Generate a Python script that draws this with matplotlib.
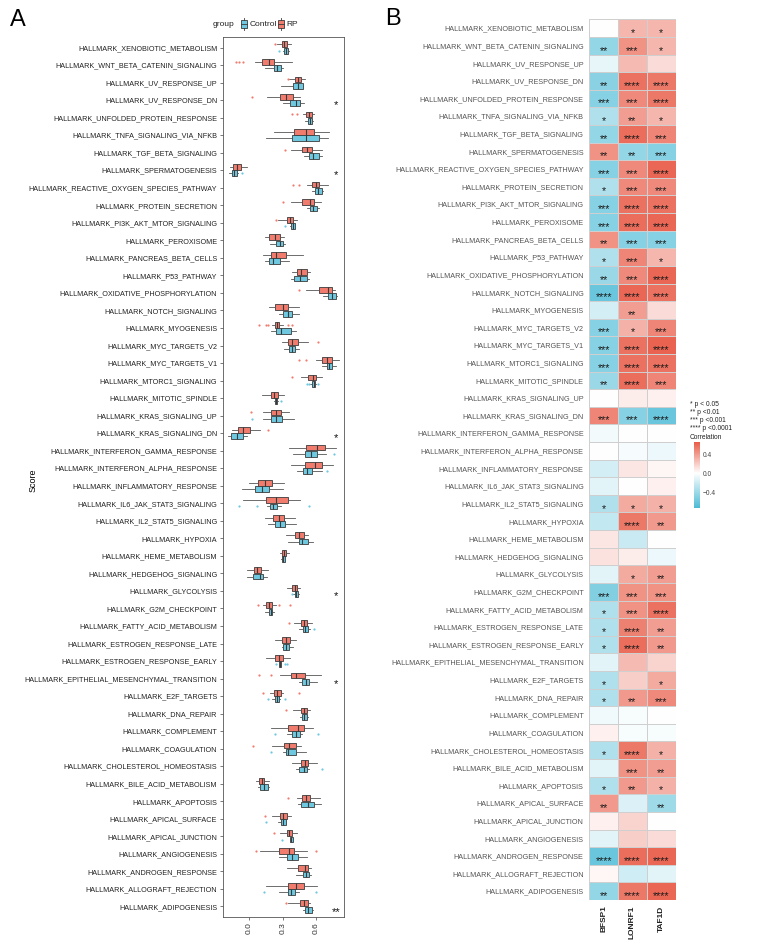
import numpy as np
import matplotlib
matplotlib.use("Agg")
import matplotlib.pyplot as plt
from matplotlib.colors import LinearSegmentedColormap, Normalize
from matplotlib.patches import Rectangle

plt.rcParams['font.family'] = ['Liberation Sans', 'DejaVu Sans']

pathways = [
    "HALLMARK_XENOBIOTIC_METABOLISM", "HALLMARK_WNT_BETA_CATENIN_SIGNALING",
    "HALLMARK_UV_RESPONSE_UP", "HALLMARK_UV_RESPONSE_DN",
    "HALLMARK_UNFOLDED_PROTEIN_RESPONSE", "HALLMARK_TNFA_SIGNALING_VIA_NFKB",
    "HALLMARK_TGF_BETA_SIGNALING", "HALLMARK_SPERMATOGENESIS",
    "HALLMARK_REACTIVE_OXYGEN_SPECIES_PATHWAY", "HALLMARK_PROTEIN_SECRETION",
    "HALLMARK_PI3K_AKT_MTOR_SIGNALING", "HALLMARK_PEROXISOME",
    "HALLMARK_PANCREAS_BETA_CELLS", "HALLMARK_P53_PATHWAY",
    "HALLMARK_OXIDATIVE_PHOSPHORYLATION", "HALLMARK_NOTCH_SIGNALING",
    "HALLMARK_MYOGENESIS", "HALLMARK_MYC_TARGETS_V2", "HALLMARK_MYC_TARGETS_V1",
    "HALLMARK_MTORC1_SIGNALING", "HALLMARK_MITOTIC_SPINDLE",
    "HALLMARK_KRAS_SIGNALING_UP", "HALLMARK_KRAS_SIGNALING_DN",
    "HALLMARK_INTERFERON_GAMMA_RESPONSE", "HALLMARK_INTERFERON_ALPHA_RESPONSE",
    "HALLMARK_INFLAMMATORY_RESPONSE", "HALLMARK_IL6_JAK_STAT3_SIGNALING",
    "HALLMARK_IL2_STAT5_SIGNALING", "HALLMARK_HYPOXIA", "HALLMARK_HEME_METABOLISM",
    "HALLMARK_HEDGEHOG_SIGNALING", "HALLMARK_GLYCOLYSIS", "HALLMARK_G2M_CHECKPOINT",
    "HALLMARK_FATTY_ACID_METABOLISM", "HALLMARK_ESTROGEN_RESPONSE_LATE",
    "HALLMARK_ESTROGEN_RESPONSE_EARLY", "HALLMARK_EPITHELIAL_MESENCHYMAL_TRANSITION",
    "HALLMARK_E2F_TARGETS", "HALLMARK_DNA_REPAIR", "HALLMARK_COMPLEMENT",
    "HALLMARK_COAGULATION", "HALLMARK_CHOLESTEROL_HOMEOSTASIS",
    "HALLMARK_BILE_ACID_METABOLISM", "HALLMARK_APOPTOSIS", "HALLMARK_APICAL_SURFACE",
    "HALLMARK_APICAL_JUNCTION", "HALLMARK_ANGIOGENESIS", "HALLMARK_ANDROGEN_RESPONSE",
    "HALLMARK_ALLOGRAFT_REJECTION", "HALLMARK_ADIPOGENESIS"]

# ---- panel A: box stats (q1, median, q3, whisker low, whisker high), RP group
rp_q1 = [0.291, 0.117, 0.414, 0.273, 0.511, 0.405, 0.477, -0.144, 0.568, 0.471,
         0.336, 0.180, 0.192, 0.426, 0.628, 0.231, 0.228, 0.351, 0.655, 0.532,
         0.192, 0.195, -0.099, 0.511, 0.505, 0.075, 0.153, 0.216, 0.408, 0.291,
         0.045, 0.387, 0.150, 0.462, 0.294, 0.231, 0.378, 0.225, 0.465, 0.351,
         0.315, 0.465, 0.090, 0.477, 0.276, 0.336, 0.270, 0.441, 0.345, 0.453]
rp_med = [0.312, 0.177, 0.438, 0.333, 0.535, 0.508, 0.523, -0.114, 0.598, 0.547,
          0.363, 0.231, 0.240, 0.465, 0.712, 0.306, 0.249, 0.384, 0.697, 0.571,
          0.222, 0.240, -0.054, 0.613, 0.595, 0.138, 0.240, 0.267, 0.444, 0.309,
          0.072, 0.408, 0.174, 0.489, 0.330, 0.267, 0.420, 0.252, 0.492, 0.435,
          0.360, 0.498, 0.111, 0.508, 0.303, 0.360, 0.357, 0.498, 0.420, 0.492]
rp_q3 = [0.336, 0.225, 0.462, 0.393, 0.562, 0.580, 0.568, -0.078, 0.631, 0.580,
         0.390, 0.276, 0.333, 0.517, 0.742, 0.351, 0.270, 0.435, 0.742, 0.604,
         0.255, 0.288, 0.003, 0.682, 0.658, 0.201, 0.351, 0.315, 0.492, 0.327,
         0.102, 0.429, 0.201, 0.523, 0.366, 0.306, 0.498, 0.285, 0.523, 0.495,
         0.417, 0.529, 0.135, 0.547, 0.342, 0.384, 0.399, 0.532, 0.492, 0.526]
rp_lo = [0.246, 0.054, 0.360, 0.159, 0.486, 0.225, 0.378, -0.174, 0.517, 0.372,
         0.261, 0.141, 0.126, 0.387, 0.508, 0.177, 0.201, 0.291, 0.598, 0.462,
         0.117, 0.120, -0.159, 0.357, 0.375, -0.003, -0.054, 0.141, 0.327, 0.276,
         -0.024, 0.336, 0.126, 0.402, 0.231, 0.150, 0.276, 0.186, 0.396, 0.192,
         0.207, 0.387, 0.060, 0.432, 0.207, 0.276, 0.096, 0.336, 0.147, 0.351]
rp_hi = [0.375, 0.381, 0.504, 0.456, 0.586, 0.715, 0.655, -0.018, 0.712, 0.643,
         0.426, 0.315, 0.483, 0.547, 0.772, 0.450, 0.306, 0.532, 0.808, 0.655,
         0.315, 0.354, 0.096, 0.778, 0.751, 0.315, 0.456, 0.411, 0.532, 0.354,
         0.165, 0.456, 0.237, 0.565, 0.420, 0.366, 0.646, 0.306, 0.547, 0.571,
         0.465, 0.613, 0.180, 0.637, 0.375, 0.426, 0.517, 0.553, 0.610, 0.550]
rp_out = [[0.231], [-0.12, -0.096, -0.06], [0.345], [0.027], [0.387, 0.429], [],
          [0.321], [], [0.396, 0.447], [0.300], [0.240], [], [], [], [0.447], [],
          [0.084, 0.150, 0.165, 0.351, 0.384], [0.622], [0.444, 0.511], [0.384],
          [], [0.015], [0.165], [], [], [], [], [], [], [], [], [],
          [0.081, 0.267, 0.363], [0.360], [], [], [0.084, 0.195], [0.120, 0.444],
          [0.327], [], [0.036], [], [], [0.351], [0.141], [0.219], [0.063, 0.598],
          [], [], [0.330]]

# Control group
ct_q1 = [0.309, 0.225, 0.396, 0.366, 0.526, 0.387, 0.535, -0.153, 0.589, 0.547,
         0.375, 0.240, 0.180, 0.402, 0.712, 0.306, 0.240, 0.357, 0.697, 0.565,
         0.234, 0.195, -0.162, 0.502, 0.483, 0.054, 0.186, 0.234, 0.444, 0.294,
         0.030, 0.411, 0.174, 0.480, 0.306, 0.264, 0.474, 0.228, 0.474, 0.387,
         0.327, 0.450, 0.096, 0.462, 0.288, 0.366, 0.342, 0.483, 0.345, 0.505]
ct_med = [0.327, 0.252, 0.435, 0.417, 0.547, 0.508, 0.571, -0.138, 0.622, 0.577,
          0.393, 0.276, 0.216, 0.456, 0.745, 0.345, 0.282, 0.384, 0.718, 0.580,
          0.243, 0.243, -0.108, 0.553, 0.520, 0.117, 0.216, 0.276, 0.474, 0.306,
          0.096, 0.423, 0.192, 0.505, 0.333, 0.276, 0.508, 0.246, 0.495, 0.420,
          0.351, 0.489, 0.129, 0.526, 0.306, 0.378, 0.387, 0.508, 0.372, 0.532]
ct_q3 = [0.345, 0.282, 0.480, 0.459, 0.562, 0.631, 0.625, -0.114, 0.658, 0.607,
         0.408, 0.306, 0.273, 0.523, 0.778, 0.381, 0.372, 0.414, 0.742, 0.595,
         0.252, 0.291, -0.054, 0.607, 0.562, 0.177, 0.252, 0.324, 0.526, 0.318,
         0.126, 0.438, 0.207, 0.532, 0.360, 0.288, 0.541, 0.264, 0.517, 0.453,
         0.417, 0.520, 0.165, 0.586, 0.327, 0.390, 0.441, 0.541, 0.408, 0.565]
ct_lo = [0.300, 0.141, 0.282, 0.306, 0.502, 0.153, 0.492, -0.180, 0.562, 0.523,
         0.366, 0.186, 0.141, 0.375, 0.661, 0.270, 0.195, 0.315, 0.652, 0.550,
         0.225, 0.120, -0.189, 0.390, 0.426, -0.063, 0.162, 0.168, 0.351, 0.285,
         -0.024, 0.396, 0.138, 0.444, 0.291, 0.264, 0.444, 0.207, 0.456, 0.336,
         0.306, 0.420, 0.075, 0.435, 0.258, 0.366, 0.267, 0.417, 0.267, 0.483]
ct_hi = [0.354, 0.306, 0.486, 0.492, 0.571, 0.709, 0.652, -0.099, 0.667, 0.631,
         0.414, 0.324, 0.354, 0.535, 0.787, 0.450, 0.420, 0.444, 0.781, 0.604,
         0.258, 0.402, -0.024, 0.691, 0.652, 0.306, 0.282, 0.423, 0.571, 0.324,
         0.156, 0.447, 0.222, 0.547, 0.396, 0.288, 0.607, 0.276, 0.532, 0.477,
         0.511, 0.541, 0.174, 0.646, 0.330, 0.396, 0.520, 0.553, 0.450, 0.571]
ct_out = [[0.264], [], [], [], [], [], [], [-0.069], [], [], [0.318], [], [], [],
          [], [], [], [], [], [0.517, 0.541, 0.622], [0.288], [0.024], [], [0.766],
          [0.703], [], [-0.093, 0.066, 0.535], [], [], [], [], [0.384], [], [0.583],
          [], [0.237, 0.324, 0.342], [], [0.171, 0.324], [], [0.231, 0.622],
          [0.195], [0.658], [], [], [0.150], [0.294], [], [], [0.135, 0.604], []]

sig_a = ["", "", "", "*", "", "", "", "*", "", "", "", "", "", "", "", "", "", "",
         "", "", "", "", "*", "", "", "", "", "", "", "", "", "*", "", "", "", "",
         "*", "", "", "", "", "", "", "", "", "", "", "", "", "**"]

# ---- panel B: correlation with genes
genes = ["BFSP1", "LONRF1", "TAF1D"]
bfsp1 = [0.0, -0.45, -0.1, -0.48, -0.5, -0.33, -0.45, 0.45, -0.5, -0.33,
         -0.5, -0.5, 0.45, -0.33, -0.42, -0.62, -0.18, -0.5, -0.5, -0.5,
         -0.42, 0.0, 0.5, -0.05, 0.0, -0.18, -0.12, -0.33, -0.25, 0.1,
         0.12, -0.12, -0.52, -0.33, -0.33, -0.33, -0.12, -0.33, -0.33, -0.06,
         0.06, -0.33, -0.12, -0.33, 0.42, 0.06, -0.12, -0.62, 0.03, -0.45]
lonrf1 = [0.3, 0.45, 0.28, 0.58, 0.48, 0.4, 0.6, -0.45, 0.48, 0.48,
          0.58, 0.6, -0.5, 0.5, 0.48, 0.62, 0.4, 0.32, 0.58, 0.58,
          0.6, 0.08, -0.5, 0.0, -0.04, 0.1, 0.0, 0.35, 0.55, -0.22,
          0.08, 0.35, 0.45, 0.45, 0.52, 0.6, 0.28, 0.2, 0.42, -0.03,
          -0.03, 0.55, 0.45, 0.42, -0.15, 0.18, 0.2, 0.6, -0.2, 0.55]
taf1d = [0.3, 0.3, 0.15, 0.55, 0.55, 0.3, 0.5, -0.5, 0.62, 0.48,
         0.58, 0.62, -0.5, 0.3, 0.62, 0.58, 0.15, 0.5, 0.64, 0.58,
         0.5, 0.06, -0.62, 0.0, -0.08, 0.04, 0.06, 0.32, 0.42, 0.0,
         -0.08, 0.4, 0.45, 0.58, 0.4, 0.42, 0.18, 0.35, 0.48, 0.0,
         -0.03, 0.32, 0.4, 0.32, -0.4, 0.0, 0.15, 0.62, -0.12, 0.62]
star_bfsp1 = ["", "**", "", "**", "***", "*", "**", "**", "***", "*", "***", "***",
              "**", "*", "**", "****", "", "***", "***", "***", "**", "", "***", "",
              "", "", "", "*", "", "", "", "", "***", "*", "*", "*", "", "*", "*",
              "", "", "*", "", "*", "**", "", "", "****", "", "**"]
star_lonrf1 = ["*", "***", "", "****", "***", "**", "****", "**", "***", "***",
               "****", "****", "***", "***", "***", "****", "**", "*", "****",
               "****", "****", "", "***", "", "", "", "", "*", "****", "", "", "*",
               "***", "***", "****", "****", "", "", "**", "", "", "****", "***",
               "**", "", "", "", "****", "", "****"]
star_taf1d = ["*", "*", "", "****", "****", "*", "***", "***", "****", "***",
              "****", "****", "***", "*", "****", "****", "", "***", "****", "****",
              "***", "", "****", "", "", "", "", "*", "**", "", "", "**", "***",
              "****", "**", "**", "", "*", "***", "", "", "*", "**", "*", "**", "",
              "", "****", "", "****"]

col_rp = "#F17C6E"
col_ct = "#6DC8E0"
n = len(pathways)

fig = plt.figure(figsize=(7.63, 9.44), dpi=100)
W, H = 763, 944

# ================= panel A
axA = fig.add_axes([222.7 / W, 1 - 917 / H, (344 - 222.7) / W, (917 - 37) / H])

def make_stats(q1, med, q3, lo, hi, out):
    return [dict(q1=a, med=b, q3=c, whislo=d, whishi=e, fliers=np.array(f))
            for a, b, c, d, e, f in zip(q1, med, q3, lo, hi, out)]

pos = np.arange(n)
for stats, off, col in [(make_stats(rp_q1, rp_med, rp_q3, rp_lo, rp_hi, rp_out), -0.18, col_rp),
                        (make_stats(ct_q1, ct_med, ct_q3, ct_lo, ct_hi, ct_out), 0.18, col_ct)]:
    axA.bxp(stats, positions=pos + off, widths=0.33, orientation='horizontal',
            patch_artist=True, showcaps=False,
            boxprops=dict(facecolor=col, edgecolor='#3a3a3a', linewidth=0.6),
            medianprops=dict(color='#3a3a3a', linewidth=0.8),
            whiskerprops=dict(color='#555555', linewidth=0.6),
            flierprops=dict(marker='o', markersize=1.6, markerfacecolor=col,
                            markeredgewidth=0, linestyle='none'))

for i, s in enumerate(sig_a):
    if s:
        axA.text(0.78, i + 0.3, s, ha='center', va='center', fontsize=8, color='#111')

axA.set_ylim(n - 0.4, -0.6)
axA.set_xlim(-0.24, 0.853)
axA.set_yticks(pos)
axA.set_yticklabels(pathways, fontsize=5.25, color='#222')
axA.set_xticks([0.0, 0.3, 0.6])
axA.set_xticklabels(["0.0", "0.3", "0.6"], rotation=90, fontsize=6, color='#333')
axA.tick_params(length=2.5, width=0.5, color='#444', pad=1.5)
for sp in axA.spines.values():
    sp.set_color('#555555')
    sp.set_linewidth(0.6)

fig.text(33 / W, 1 - 480 / H, "Score", rotation=90, ha='center', va='center', fontsize=6.5)
fig.text(10 / W, 1 - 20 / H, "A", fontsize=17, ha='left', va='center')
fig.text(385 / W, 1 - 19 / H, "B", fontsize=17, ha='left', va='center')

# group legend
fig.text(213 / W, 1 - 24 / H, "group", fontsize=6, ha='left', va='center', color='#222')
for x0, col, lab in [(240.7, col_ct, "Control"), (277.7, col_rp, "RP")]:
    fig.patches.append(Rectangle((x0 / W, 1 - 28 / H), 6 / W, 8 / H, transform=fig.transFigure,
                                 facecolor=col, edgecolor='#3a3a3a', linewidth=0.6))
    fig.lines.append(plt.Line2D([x0 / W, (x0 + 6) / W], [1 - 24 / H, 1 - 24 / H],
                                transform=fig.transFigure, color='#3a3a3a', linewidth=0.6))
    fig.lines.append(plt.Line2D([(x0 + 3) / W, (x0 + 3) / W], [1 - 30 / H, 1 - 28 / H],
                                transform=fig.transFigure, color='#3a3a3a', linewidth=0.6))
    fig.lines.append(plt.Line2D([(x0 + 3) / W, (x0 + 3) / W], [1 - 20 / H, 1 - 18 / H],
                                transform=fig.transFigure, color='#3a3a3a', linewidth=0.6))
    fig.text((x0 + 8.5) / W, 1 - 24 / H, lab, fontsize=6, ha='left', va='center', color='#222')

# ================= panel B
cmap = LinearSegmentedColormap.from_list("bwr2", ["#4DBBD5", "#FFFFFF", "#E64B35"])
norm = Normalize(-0.74, 0.74)
axB = fig.add_axes([589.3 / W, 1 - 900 / H, (675.7 - 589.3) / W, (900 - 19.3) / H])
mat = np.column_stack([bfsp1, lonrf1, taf1d])
axB.pcolormesh(mat, cmap=cmap, norm=norm, edgecolors='#cfcfcf', linewidth=0.6)
stars = [star_bfsp1, star_lonrf1, star_taf1d]
for j in range(3):
    for i in range(n):
        if stars[j][i]:
            axB.text(j + 0.5, i + 0.78, stars[j][i], ha='center', va='center',
                     fontsize=7.8, color='#1a1a1a')
axB.set_xlim(0, 3)
axB.set_ylim(n, 0)
axB.set_yticks(np.arange(n) + 0.5)
axB.set_yticklabels(pathways, fontsize=5.25, color='#555555')
axB.set_xticks(np.arange(3) + 0.5)
axB.set_xticklabels(genes, rotation=90, fontsize=6, fontweight='bold', color='#222')
axB.tick_params(length=0, pad=4)
for sp in axB.spines.values():
    sp.set_visible(False)

# significance legend + colorbar
leg_lines = ["* p < 0.05", "** p <0.01", "*** p <0.001", "**** p <0.0001", "Correlation"]
for k, t in enumerate(leg_lines):
    fig.text(690 / W, 1 - (404 + 8.3 * k) / H, t, fontsize=4.8, ha='left', va='center',
             color='#222')
cb_lo, cb_hi = -0.74, 0.665
axC = fig.add_axes([694 / W, 1 - 508 / H, 6 / W, 66 / H])
grad = np.linspace(cb_lo, cb_hi, 200).reshape(-1, 1)
axC.imshow(grad, cmap=cmap, norm=norm, aspect='auto', origin='lower',
           extent=[0, 1, cb_lo, cb_hi])
axC.set_xticks([])
axC.yaxis.tick_right()
axC.set_yticks([-0.4, 0.0, 0.4])
axC.set_yticklabels(["\u22120.4", "0.0", "0.4"], fontsize=4.8, color='#444')
axC.tick_params(length=0, pad=2)
for sp in axC.spines.values():
    sp.set_visible(False)

fig.savefig("out.png", dpi=100)
